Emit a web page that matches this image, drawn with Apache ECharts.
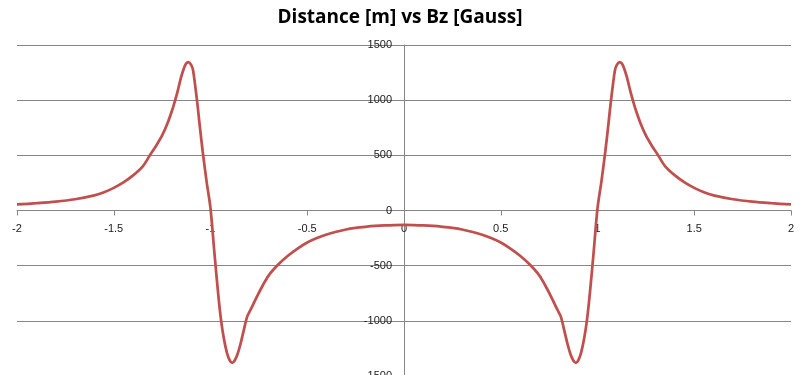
<!DOCTYPE html>
<html>
<head>
<meta charset="utf-8">
<script src="https://cdn.jsdelivr.net/npm/echarts@6/dist/echarts.min.js"></script>
<style>
html,body{margin:0;padding:0;background:#fff;}
#chart{width:800px;height:375px;}
</style>
</head>
<body>
<div id="chart"></div>
<script>
var chartTitle = "Distance [m] vs Bz [Gauss]";
var distance = [
  -2.00, -1.90, -1.80, -1.70, -1.60, -1.55, -1.50, -1.45, -1.40, -1.35,
  -1.31, -1.28, -1.25, -1.22, -1.20, -1.19, -1.17, -1.15, -1.13, -1.115,
  -1.10, -1.09, -1.07, -1.055, -1.04, -1.02, -1.00, -0.98, -0.96, -0.945,
  -0.93, -0.915, -0.90, -0.888, -0.875, -0.86, -0.845, -0.83, -0.81, -0.79,
  -0.76, -0.73, -0.70, -0.65, -0.60, -0.55, -0.50, -0.45, -0.40, -0.35,
  -0.30, -0.25, -0.20, -0.15, -0.10, -0.05, 0.00,
  0.05, 0.10, 0.15, 0.20, 0.25, 0.30, 0.35, 0.40, 0.45, 0.50,
  0.55, 0.60, 0.65, 0.70, 0.73, 0.76, 0.79, 0.81, 0.83, 0.845,
  0.86, 0.875, 0.888, 0.90, 0.915, 0.93, 0.945, 0.96, 0.98, 1.00,
  1.02, 1.04, 1.055, 1.07, 1.09, 1.10, 1.115, 1.13, 1.15, 1.17,
  1.19, 1.20, 1.22, 1.25, 1.28, 1.31, 1.35, 1.40, 1.45, 1.50,
  1.55, 1.60, 1.70, 1.80, 1.90, 2.00
];
var bz = [
  55, 66, 80, 102, 137, 165, 205, 255, 318, 400,
  510, 590, 680, 800, 900, 955, 1080, 1220, 1320, 1345,
  1320, 1270, 1000, 760, 530, 260, 20, -380, -760, -1000,
  -1170, -1290, -1360, -1380, -1360, -1300, -1210, -1100, -960, -890,
  -780, -680, -590, -490, -410, -345, -290, -250, -218, -193,
  -172, -158, -148, -140, -135, -132, -131,
  -132, -135, -140, -148, -158, -172, -193, -218, -250, -290,
  -345, -410, -490, -590, -680, -780, -890, -960, -1100, -1210,
  -1300, -1360, -1380, -1360, -1290, -1170, -1000, -760, -380, 20,
  260, 530, 760, 1000, 1270, 1320, 1345, 1320, 1220, 1080,
  955, 900, 800, 680, 590, 510, 400, 318, 255, 205,
  165, 137, 102, 80, 66, 55
];
var xMin = -2, xMax = 2, xStep = 0.5;
var yMin = -1500, yMax = 1500, yStep = 500;

var points = distance.map(function (d, i) { return [d, bz[i]]; });

var gridLeft = 17, gridTop = 45, gridWidth = 774, gridHeight = 331;
// place the axes through the origin (the plot's centre)
var yAxisShift = -gridWidth * (0 - xMin) / (xMax - xMin);
var xAxisShift = -gridHeight * (0 - yMin) / (yMax - yMin);

var chart = echarts.init(document.getElementById('chart'), null, {renderer: 'canvas'});
var gridColor = '#868686';
var labelStyle = {fontFamily: 'Liberation Sans', fontSize: 11, color: '#1a1a1a'};
chart.setOption({
  animation: false,
  backgroundColor: '#ffffff',
  title: {
    text: chartTitle,
    left: 'center',
    top: 3,
    textStyle: {fontFamily: 'Open Sans', fontWeight: 'bold', fontSize: 19, color: '#000000'}
  },
  grid: {left: gridLeft, top: gridTop, width: gridWidth, height: gridHeight, containLabel: false, outerBoundsMode: 'none'},
  xAxis: {
    type: 'value',
    position: 'bottom',
    offset: xAxisShift,
    min: xMin, max: xMax, interval: xStep,
    axisLine: {show: true, onZero: false, lineStyle: {color: gridColor, width: 1}},
    axisTick: {show: true, inside: false, length: 5, lineStyle: {color: gridColor}},
    axisLabel: Object.assign({show: true, margin: 13, showMinLabel: true, showMaxLabel: true, hideOverlap: false,
      formatter: function (v) { return String(v); }}, labelStyle),
    splitLine: {show: false}
  },
  yAxis: {
    type: 'value',
    position: 'left',
    offset: yAxisShift,
    min: yMin, max: yMax, interval: yStep,
    axisLine: {show: true, onZero: false, lineStyle: {color: gridColor, width: 1}},
    axisTick: {show: true, inside: false, length: 5, lineStyle: {color: gridColor}},
    axisLabel: Object.assign({show: true, margin: 12, showMinLabel: true, showMaxLabel: true, hideOverlap: false,
      formatter: function (v) { return String(v); }}, labelStyle),
    splitLine: {show: true, lineStyle: {color: gridColor, width: 1}}
  },
  series: [{
    type: 'line',
    data: points,
    showSymbol: false,
    smooth: 0.3,
    lineStyle: {color: '#C0504D', width: 2.75},
    itemStyle: {color: '#C0504D'}
  }]
});
</script>
</body>
</html>
